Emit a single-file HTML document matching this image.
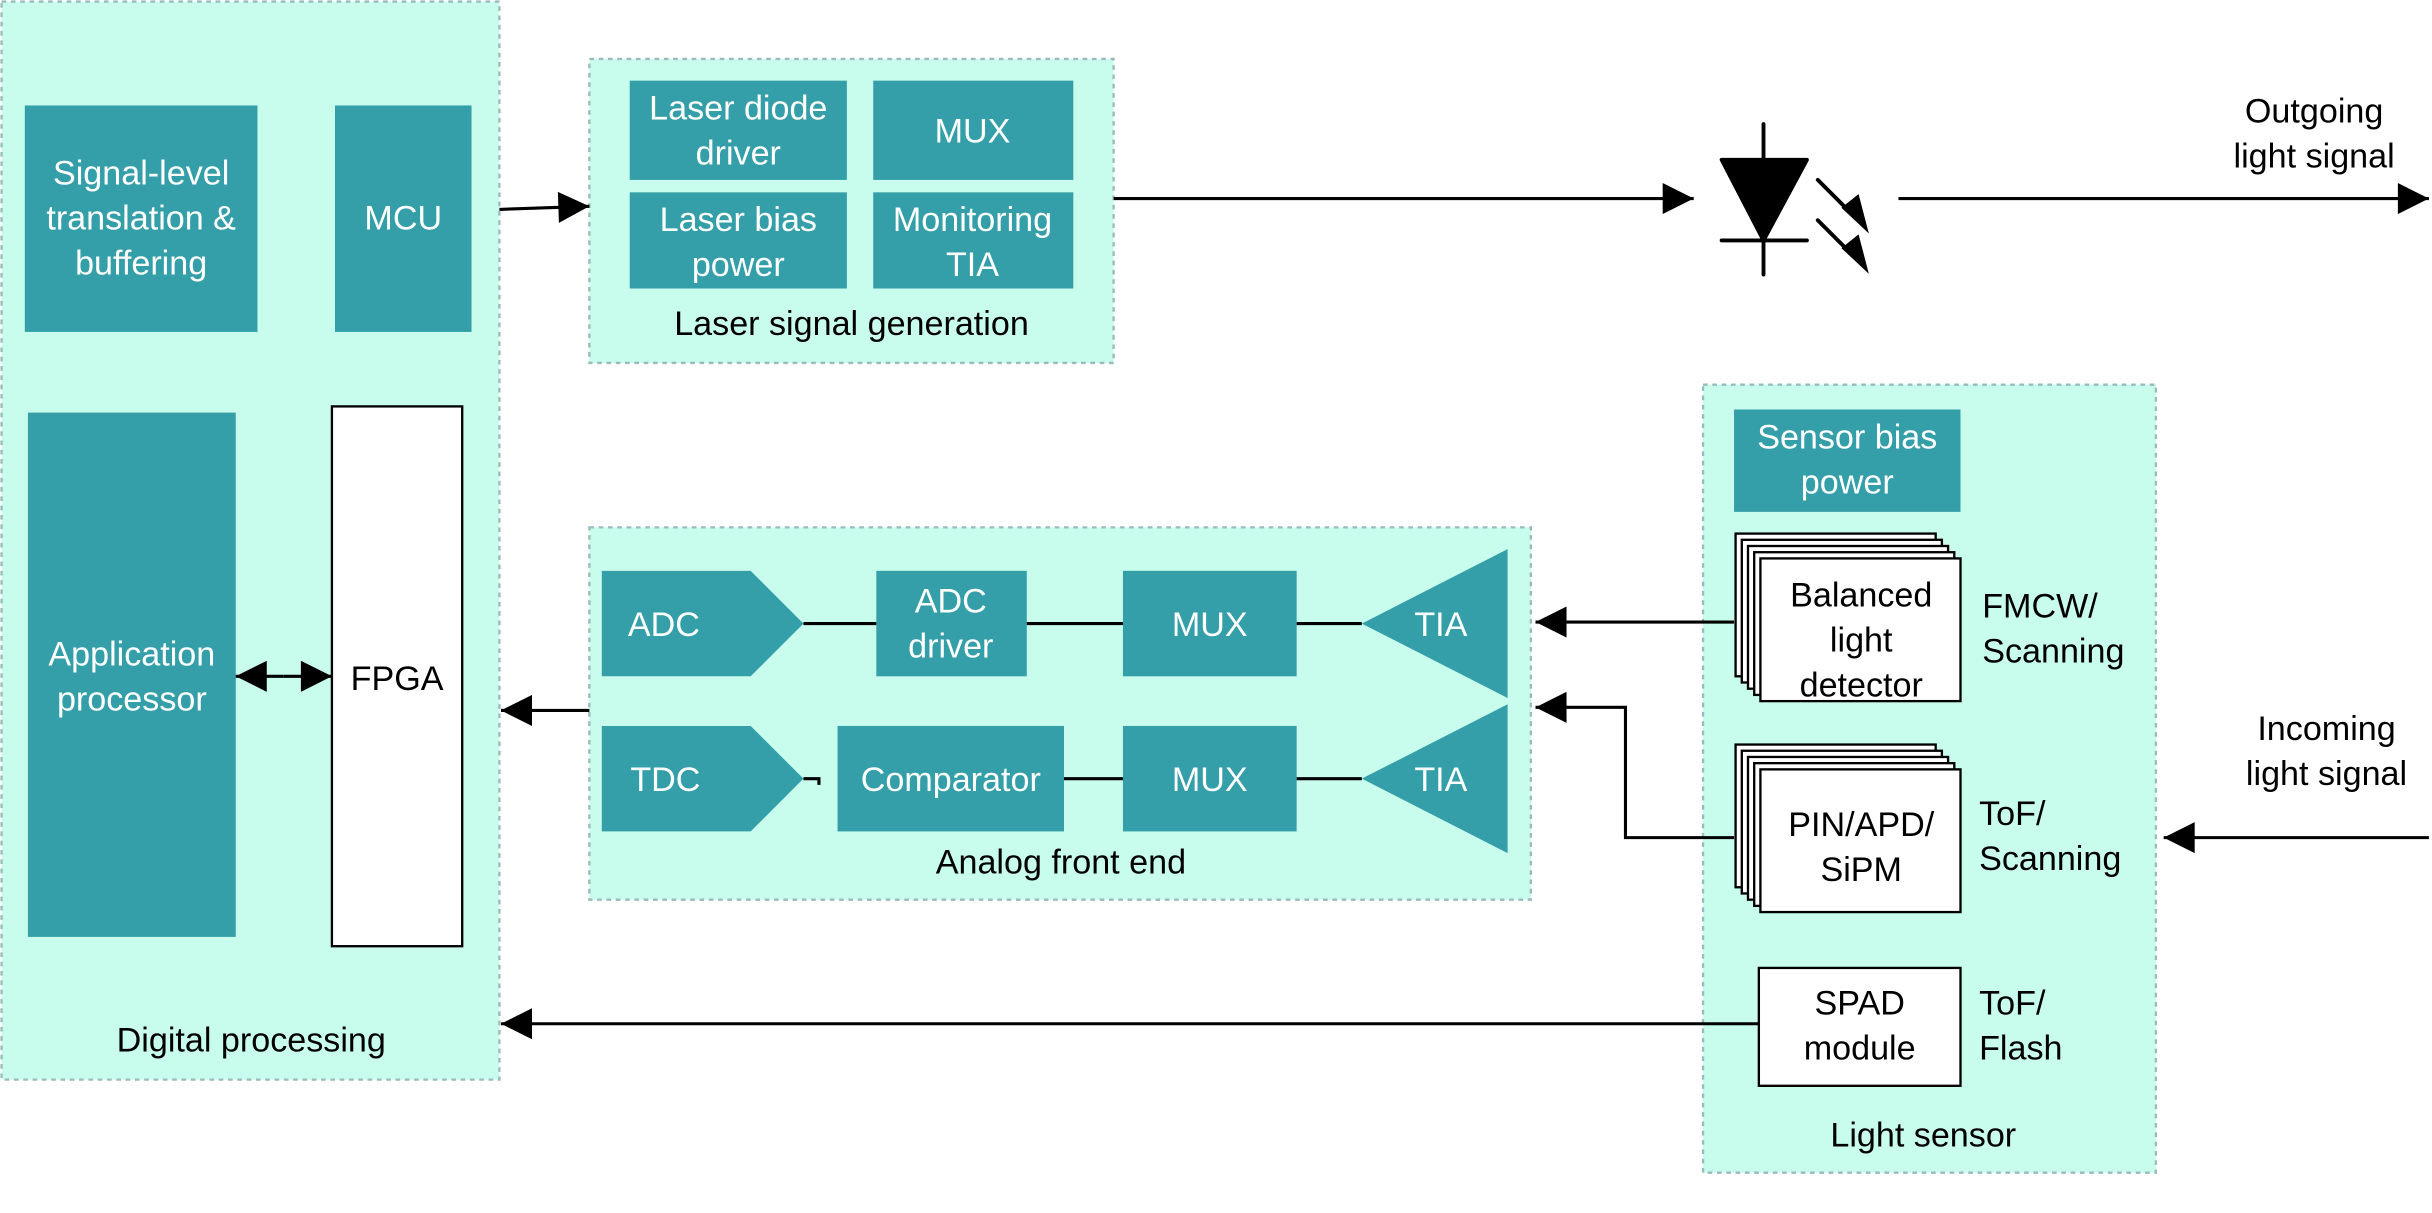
<!DOCTYPE html>
<html><head><meta charset="utf-8"><style>html,body{margin:0;padding:0;background:#fff}svg{display:block}</style></head><body>
<svg width="2432" height="1213" viewBox="0 0 1568 782" preserveAspectRatio="none" xmlns="http://www.w3.org/2000/svg" font-family="Liberation Sans, sans-serif" font-size="22" text-anchor="middle">
<defs>
<marker id="a" viewBox="0 0 10 10" refX="10" refY="5" markerWidth="28" markerHeight="20" markerUnits="userSpaceOnUse" orient="auto"><path d="M0,0L10,5L0,10z" fill="#000"/></marker>
</defs>
<g fill="#c8fcec" stroke="#9bb" stroke-width="1.5" stroke-dasharray="3,3">
<rect x="1" y="1" width="321" height="695"/>
<rect x="380" y="38" width="338" height="196"/>
<rect x="380" y="340" width="607" height="240"/>
<rect x="1098" y="248" width="292" height="508"/>
</g>
<g fill="#349fa8">
<rect x="16" y="68" width="150" height="146"/>
<rect x="216" y="68" width="88" height="146"/>
<rect x="18" y="266" width="134" height="338"/>
<rect x="406" y="52" width="140" height="64"/>
<rect x="563" y="52" width="129" height="64"/>
<rect x="406" y="124" width="140" height="62"/>
<rect x="563" y="124" width="129" height="62"/>
<path d="M388,368H484L518,402L484,436H388Z"/>
<rect x="565" y="368" width="97" height="68"/>
<rect x="724" y="368" width="112" height="68"/>
<path d="M878,402L972,354V450Z"/>
<path d="M388,468H484L518,502L484,536H388Z"/>
<rect x="540" y="468" width="146" height="68"/>
<rect x="724" y="468" width="112" height="68"/>
<path d="M878,502L972,454V550Z"/>
<rect x="1118" y="264" width="146" height="66"/>
</g>
<rect x="214" y="262" width="84" height="348" fill="#fff" stroke="#000" stroke-width="1.5"/>
<g stroke="#000" stroke-width="2" fill="none">
<line x1="518" y1="402" x2="565" y2="402"/><line x1="662" y1="402" x2="724" y2="402"/><line x1="836" y1="402" x2="878" y2="402"/>
<path d="M518,502H528V506"/><line x1="686" y1="502" x2="724" y2="502"/><line x1="836" y1="502" x2="878" y2="502"/>
<line x1="322" y1="135" x2="380" y2="133" marker-end="url(#a)"/>
<line x1="718" y1="128" x2="1092" y2="128" marker-end="url(#a)"/>
<line x1="1224" y1="128" x2="1566" y2="128" marker-end="url(#a)"/>
<line x1="380" y1="458" x2="323" y2="458" marker-end="url(#a)"/>
<line x1="1118" y1="401" x2="990" y2="401" marker-end="url(#a)"/>
<path d="M1118,540H1048V456H990" marker-end="url(#a)"/>
<line x1="1134" y1="660" x2="323" y2="660" marker-end="url(#a)"/>
<line x1="1566" y1="540" x2="1395" y2="540" marker-end="url(#a)"/>
<line x1="183" y1="436" x2="152" y2="436" marker-end="url(#a)"/>
<line x1="183" y1="436" x2="214" y2="436" marker-end="url(#a)"/>
</g>
<g stroke="#000" stroke-width="2.5" fill="#000" stroke-linecap="round">
<line x1="1137" y1="80" x2="1137" y2="177"/>
<path d="M1110,103H1165L1137,155Z" stroke-linejoin="round"/>
<line x1="1110" y1="155" x2="1165" y2="155"/>
<line x1="1172" y1="116" x2="1196" y2="140"/>
<line x1="1172" y1="142" x2="1196" y2="166"/>
<path d="M1188,134L1204,149L1198,126Z" stroke-width="1"/>
<path d="M1188,160L1204,175L1198,152Z" stroke-width="1"/>
</g>
<g fill="#fff" stroke="#000" stroke-width="1.5">
<rect x="1119" y="344" width="129" height="92"/><rect x="1123" y="348" width="129" height="92"/><rect x="1127" y="352" width="129" height="92"/><rect x="1131" y="356" width="129" height="92"/><rect x="1135" y="360" width="129" height="92"/>
<rect x="1119" y="480" width="129" height="92"/><rect x="1123" y="484" width="129" height="92"/><rect x="1127" y="488" width="129" height="92"/><rect x="1131" y="492" width="129" height="92"/><rect x="1135" y="496" width="129" height="92"/>
<rect x="1134" y="624" width="130" height="76"/>
</g>
<g fill="#fff">
<text x="91" y="119">Signal-level</text><text x="91" y="148">translation &amp;</text><text x="91" y="177">buffering</text>
<text x="260" y="148">MCU</text>
<text x="85" y="429">Application</text><text x="85" y="458">processor</text>
<text x="476" y="77">Laser diode</text><text x="476" y="106">driver</text>
<text x="627" y="92">MUX</text>
<text x="476" y="149">Laser bias</text><text x="476" y="178">power</text>
<text x="627" y="149">Monitoring</text><text x="627" y="178">TIA</text>
<text x="428" y="410">ADC</text><text x="613" y="395">ADC</text><text x="613" y="424">driver</text>
<text x="780" y="410">MUX</text><text x="929" y="410">TIA</text>
<text x="429" y="510">TDC</text><text x="613" y="510">Comparator</text>
<text x="780" y="510">MUX</text><text x="929" y="510">TIA</text>
<text x="1191" y="289">Sensor bias</text><text x="1191" y="318">power</text>
</g>
<g fill="#000">
<text x="256" y="445">FPGA</text>
<text x="162" y="678">Digital processing</text>
<text x="549" y="216">Laser signal generation</text>
<text x="684" y="563">Analog front end</text>
<text x="1240" y="739">Light sensor</text>
<text x="1200" y="391">Balanced</text><text x="1200" y="420">light</text><text x="1200" y="449">detector</text>
<text x="1200" y="539">PIN/APD/</text><text x="1200" y="568">SiPM</text>
<text x="1199" y="654">SPAD</text><text x="1199" y="683">module</text>
<g text-anchor="start">
<text x="1278" y="398">FMCW/</text><text x="1278" y="427">Scanning</text>
<text x="1276" y="532">ToF/</text><text x="1276" y="561">Scanning</text>
<text x="1276" y="654">ToF/</text><text x="1276" y="683">Flash</text>
</g>
<text x="1492" y="79">Outgoing</text><text x="1492" y="108">light signal</text>
<text x="1500" y="477">Incoming</text><text x="1500" y="506">light signal</text>
</g>
</svg>
</body></html>
